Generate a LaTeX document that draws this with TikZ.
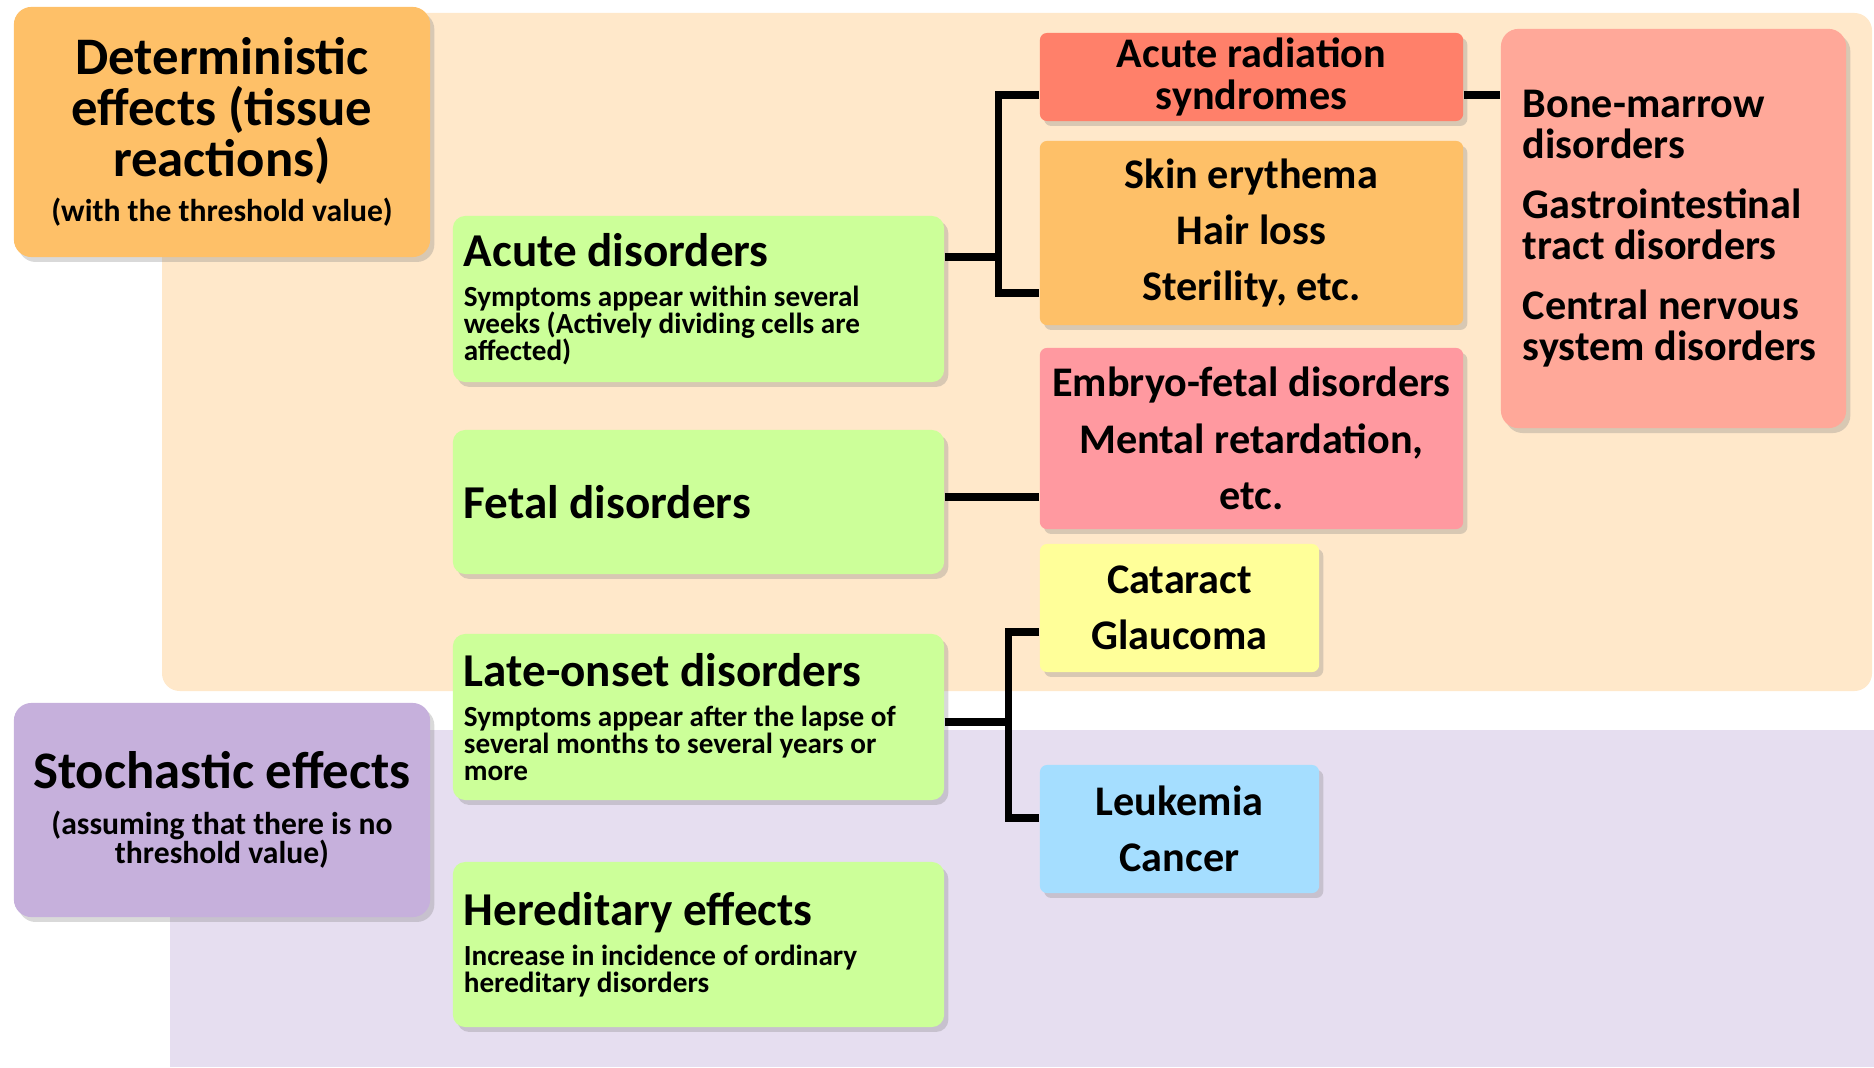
\documentclass[tikz,border=0pt]{standalone}
\usepackage{fontspec}
\setmainfont{Carlito}
\usetikzlibrary{shadows}
\definecolor{detbg}{HTML}{FFE8CA}
\definecolor{stobg}{HTML}{E6DEF0}
\definecolor{detbox}{HTML}{FEC068}
\definecolor{stobox}{HTML}{C6B0DC}
\definecolor{grn}{HTML}{CCFF99}
\definecolor{arsbox}{HTML}{FF806A}
\definecolor{bonebox}{HTML}{FFA899}
\definecolor{embbox}{HTML}{FF99A0}
\definecolor{catbox}{HTML}{FFFF99}
\definecolor{leubox}{HTML}{A5DEFF}
\newcommand\nosp{\spaceskip=0pt\xspaceskip=0pt\lineskiplimit=-20pt\lineskip=0pt\relax}
\newcommand\fbig{\fontsize{15pt}{14.5pt}\selectfont\bfseries\nosp}
\newcommand\fsub{\fontsize{9pt}{8.5pt}\selectfont\bfseries\nosp}
\newcommand\ftitle{\fontsize{13.4pt}{13pt}\selectfont\bfseries\nosp}
\newcommand\fdetail{\fontsize{8.3pt}{7.6pt}\selectfont\bfseries\nosp}
\newcommand\fitem{\fontsize{12pt}{16pt}\selectfont\bfseries\nosp}
\newcommand\fars{\fontsize{12pt}{11.7pt}\selectfont\bfseries\nosp}
\begin{document}
\begin{tikzpicture}[x=0.01cm,y=-0.01cm,
  box/.style={rounded corners=2pt,inner ysep=0pt,inner xsep=0.1cm,
    execute at begin node={\nosp},
    drop shadow={shadow xshift=1.2pt,shadow yshift=-1.4pt,opacity=0.3}},
  headbox/.style={box,rounded corners=5pt,minimum width=4.16cm,text width=3.96cm,align=flush center,font=\fsub},
  greenbox/.style={box,fill=grn,rounded corners=3.5pt,minimum width=4.91cm,text width=4.69cm,inner xsep=0.11cm,align=flush left,font=\fdetail},
  itembox/.style={box,align=flush center,inner xsep=0.015cm,font=\fitem},
  conn/.style={line width=2pt}]
\useasboundingbox (0,0) rectangle (1874,1067);
% background areas
\fill[detbg,rounded corners=5pt] (162,13) rectangle (1872,691);
\fill[stobg] (170,730) rectangle (1874,1067);

% left headings
\node[headbox,fill=detbox,minimum height=2.5cm] (det) at (222,132)
  {{\fbig Deterministic}\\[6pt]{\fbig effects (tissue}\\[6pt]{\fbig reactions)}\\[4.5pt](with the threshold value)};
\node[headbox,fill=stobox,minimum height=2.14cm] (sto) at (222,810)
  {{\fbig Stochastic effects}\\[4.5pt](assuming that there is no\\threshold value)};

% middle column
\node[greenbox,minimum height=1.66cm] (acute) at (698.5,299)
  {{\ftitle Acute disorders}\\[3.8pt]Symptoms appear within several\\weeks (Actively dividing cells are\\affected)};
\node[greenbox,minimum height=1.44cm,font=\ftitle] (fetal) at (698.5,502) {Fetal disorders};
\node[greenbox,minimum height=1.66cm] (late) at (698.5,717)
  {{\ftitle Late-onset disorders}\\[3.8pt]Symptoms appear after the lapse of\\several months to several years or\\more};
\node[greenbox,minimum height=1.65cm] (hered) at (698.5,944.5)
  {{\ftitle Hereditary effects}\\[3.8pt]Increase in incidence of ordinary\\hereditary disorders};

% right column
\node[itembox,fill=arsbox,minimum width=4.23cm,text width=4.2cm,minimum height=0.88cm,font=\fars] (ars) at (1251.5,77)
  {Acute radiation\\syndromes};
\node[itembox,fill=detbox,minimum width=4.23cm,text width=4.2cm,minimum height=1.84cm] (skin) at (1251.5,233)
  {Skin erythema\\Hair loss\\Sterility, etc.};
\node[itembox,fill=embbox,minimum width=4.23cm,text width=4.2cm,minimum height=1.81cm] (embryo) at (1251.5,438.5)
  {Embryo-fetal disorders\\Mental retardation,\\etc.};
\node[itembox,fill=catbox,minimum width=2.79cm,text width=2.76cm,minimum height=1.28cm] (cat) at (1179.5,608)
  {Cataract\\Glaucoma};
\node[itembox,fill=leubox,minimum width=2.79cm,text width=2.76cm,minimum height=1.28cm] (leuk) at (1179.5,829)
  {Leukemia\\Cancer};
\node[box,fill=bonebox,rounded corners=5pt,minimum width=3.45cm,text width=3.01cm,inner xsep=0.22cm,
  minimum height=3.99cm,align=flush left,font=\fars] (bone) at (1673.5,228.5)
  {Bone-marrow\\disorders\\[5.4pt]Gastrointestinal\\tract disorders\\[5.4pt]Central nervous\\system disorders};

% connectors
\coordinate (atop) at (998,95);
\coordinate (abot) at (998,293);
\coordinate (ltop) at (1008,632);
\coordinate (lbot) at (1008,818);
\draw[conn] (ars.west |- atop) -- (atop) -- (abot) -- (skin.west |- abot);
\draw[conn] (acute.east |- 0,257) -- (atop |- 0,257);
\draw[conn] (ars.east |- atop) -- (bone.west |- atop);
\draw[conn] (fetal.east |- 0,497) -- (embryo.west |- 0,497);
\draw[conn] (cat.west |- ltop) -- (ltop) -- (lbot) -- (leuk.west |- lbot);
\draw[conn] (late.east |- 0,722) -- (ltop |- 0,722);
\end{tikzpicture}
\end{document}
